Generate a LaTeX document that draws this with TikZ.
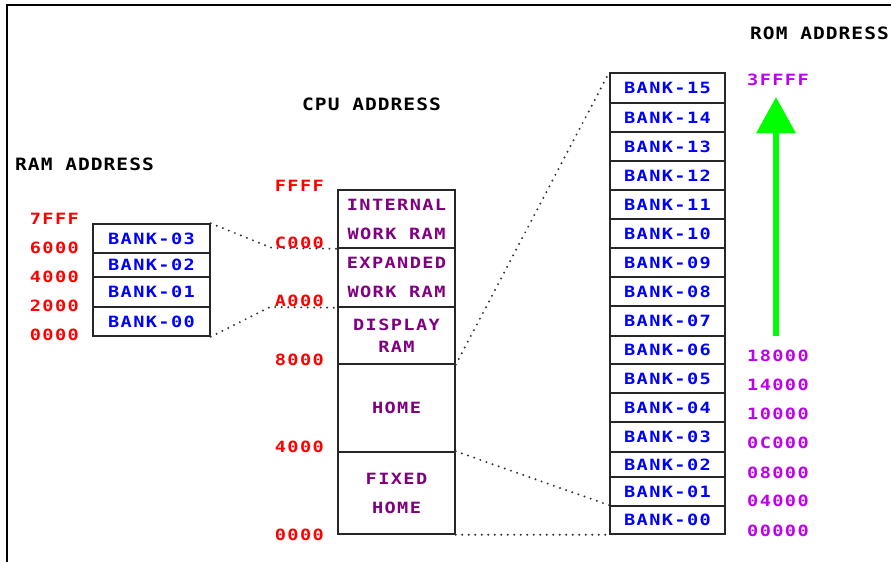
\documentclass[tikz,border=0pt]{standalone}
\usepackage{fontspec}
\usetikzlibrary{arrows.meta}
\newfontfamily\pixfont[FakeStretch=1.2,LetterSpace=9]{DejaVu Sans Mono Bold}
\newfontfamily\ttlfont[FakeStretch=1.15,LetterSpace=6]{DejaVu Sans Mono}
\definecolor{bankblue}{RGB}{0,0,255}
\definecolor{cpupurple}{RGB}{128,0,128}
\definecolor{addrred}{RGB}{255,0,0}
\definecolor{rommag}{RGB}{190,0,240}
\definecolor{arrowgreen}{RGB}{0,255,0}
\begin{document}
\begin{tikzpicture}[x=1pt,y=-1pt,
  cell/.style={draw=black!85,line width=1.5pt,inner sep=0pt,align=center,
    font=\pixfont\fontsize{15.5}{29}\selectfont},
  ramcell/.style={cell,minimum width=117pt,text=bankblue},
  cpucell/.style={cell,minimum width=117pt,text=cpupurple},
  romcell/.style={cell,minimum width=115pt,text=bankblue},
  lbl/.style={inner sep=0pt,font=\pixfont\fontsize{15.5}{18}\selectfont},
  ramlbl/.style={lbl,anchor=east,text=addrred},
  cpulbl/.style={lbl,anchor=east,text=addrred},
  romlbl/.style={lbl,anchor=west,text=rommag},
  title/.style={inner sep=0pt,anchor=west,font=\ttlfont\bfseries\fontsize{17}{20}\selectfont},
  dotline/.style={draw=black!80,line width=2.2pt,line cap=round,dash pattern=on 0pt off 6.5pt},
  uparrow/.style={draw=arrowgreen,line width=6pt,-{Triangle[width=38pt,length=36pt]}}
]
\useasboundingbox (0,0) rectangle (891,562);
\draw[line width=1.5pt] (7,562) -- (7,5) -- (891,5);

% titles
\node[title] (tram) at (15,164) {RAM ADDRESS};
\node[title] (tcpu) at (302,104) {CPU ADDRESS};
\node[title] (trom) at (750,33) {ROM ADDRESS};

% RAM banks
\node[ramcell,minimum height=29pt] (r3) at (151.5,238.5) {BANK-03};
\node[ramcell,minimum height=24pt] (r2) at (151.5,265) {BANK-02};
\node[ramcell,minimum height=30pt] (r1) at (151.5,292) {BANK-01};
\node[ramcell,minimum height=29pt] (r0) at (151.5,321.5) {BANK-00};

% CPU map
\node[cpucell,minimum height=58pt] (ci) at (396.5,219) {INTERNAL\\WORK RAM};
\node[cpucell,minimum height=59pt] (ce) at (396.5,277.5) {EXPANDED\\WORK RAM};
\node[cpucell,minimum height=57pt] (cd) at (396.5,335.5) {DISPLAY\\[-7pt]RAM};
\node[cpucell,minimum height=88pt] (ch) at (396.5,408) {HOME};
\node[cpucell,minimum height=82pt] (cf) at (396.5,493) {FIXED\\HOME};

% ROM banks
\foreach \n/\t/\b in {15/73/103,14/103/132,13/132/161,12/161/190,11/190/219,10/219/248,
  09/248/277,08/277/306,07/306/336,06/336/364,05/364/393,04/393/422,03/422/452,
  02/452/477,01/477/506,00/506/534}
  \node[romcell,minimum height={(\b-\t)*1pt}] (b\n) at (667.5,{(\t+\b)/2}) {BANK-\n};

% RAM address labels
\node[ramlbl] (a7fff) at (79,219) {7FFF};
\node[ramlbl] (a6000) at (79,248) {6000};
\node[ramlbl] (a4000) at (79,277) {4000};
\node[ramlbl] (a2000) at (79,306) {2000};
\node[ramlbl] (a0000) at (79,335) {0000};

% CPU address labels
\node[cpulbl] (cffff) at (324,186) {FFFF};
\node[cpulbl] (cc000) at (324,243) {C000};
\node[cpulbl] (ca000) at (324,301) {A000};
\node[cpulbl] (c8000) at (324,360) {8000};
\node[cpulbl] (c4000) at (324,447) {4000};
\node[cpulbl] (c0000) at (324,535) {0000};

% ROM address labels
\node[romlbl] (m3ffff) at (747,80) {3FFFF};
\node[romlbl] (m18000) at (747,356) {18000};
\node[romlbl] (m14000) at (747,385) {14000};
\node[romlbl] (m10000) at (747,414) {10000};
\node[romlbl] (m0c000) at (747,443) {0C000};
\node[romlbl] (m08000) at (747,473) {08000};
\node[romlbl] (m04000) at (747,501) {04000};
\node[romlbl] (m00000) at (747,531) {00000};

% dotted mapping lines
\coordinate (kc) at (272,248);
\coordinate (ka) at (270,307);
\draw[dotline] (r3.north east) -- (kc) -- (ci.south west);
\draw[dotline] (r0.south east) -- (ka) -- (ce.south west);
\draw[dotline] (cd.south east) -- (b15.north west);
\draw[dotline] (cf.north east) -- (b00.north west);
\draw[dotline] (cf.south east) -- (b00.south west);

% green arrow
\coordinate (abase) at (776,336);
\coordinate (atip) at (776,97);
\draw[uparrow] (abase) -- (atip);
\end{tikzpicture}
\end{document}
